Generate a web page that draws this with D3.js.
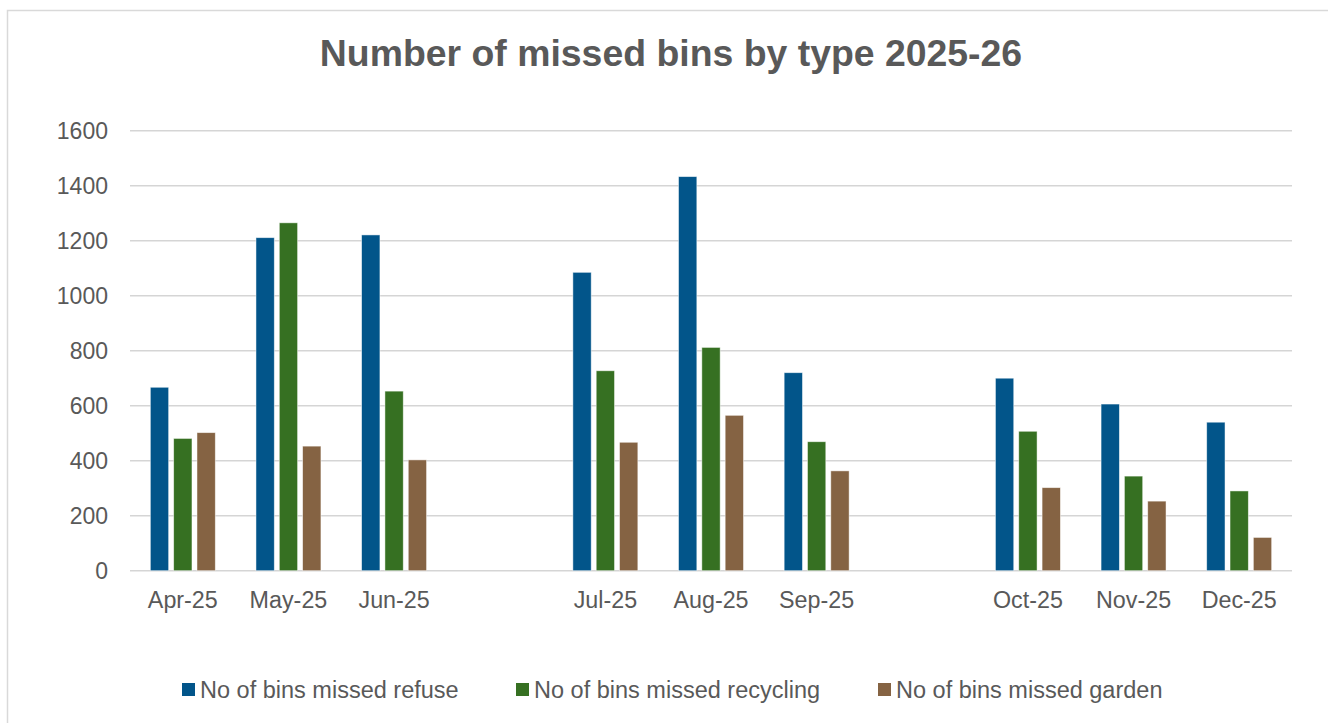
<!DOCTYPE html>
<html>
<head>
<meta charset="utf-8">
<script src="https://cdn.jsdelivr.net/npm/d3@7"></script>
<style>
  html, body { margin: 0; padding: 0; background: #fff; }
  svg { display: block; }
</style>
</head>
<body>
<svg id="chart" width="1328" height="723"></svg>
<script>
// Month slots; empty strings are spacer slots between quarters
const months = ["Apr-25", "May-25", "Jun-25", "", "Jul-25", "Aug-25", "Sep-25", "", "Oct-25", "Nov-25", "Dec-25"];
const refuse    = [667, 1211, 1221, null, 1085, 1433, 720, null, 700, 606, 540];
const recycling = [481, 1265, 653, null, 727, 812, 469, null, 507, 344, 290];
const garden    = [502, 453, 403, null, 467, 565, 363, null, 302, 253, 121];
const seriesNames = ["No of bins missed refuse", "No of bins missed recycling", "No of bins missed garden"];
const seriesColors = ["#02558a", "#367022", "#856343"];
const yTicks = [0, 200, 400, 600, 800, 1000, 1200, 1400, 1600];

const seriesValues = [refuse, recycling, garden];

const svg = d3.select("#chart");
const font = "'Liberation Sans', Arial, sans-serif";
const textColor = "#595959";

// Outer frame (top and left edges visible)
svg.append("path")
  .attr("d", "M7.5,730 V10.5 H1340")
  .attr("fill", "none")
  .attr("stroke", "#d9d9d9")
  .attr("stroke-width", 1.5);

// Title
svg.append("text")
  .attr("x", 671)
  .attr("y", 66)
  .attr("text-anchor", "middle")
  .attr("font-family", font)
  .attr("font-weight", "bold")
  .attr("font-size", 37.4)
  .attr("fill", textColor)
  .text("Number of missed bins by type 2025-26");

const plot = { left: 130, right: 1292, top: 130.7, bottom: 570.7 };

const x0 = d3.scaleBand()
  .domain(d3.range(months.length))
  .range([plot.left, plot.right])
  .padding(0);

const y = d3.scaleLinear()
  .domain([0, 1600])
  .range([plot.bottom, plot.top]);

const groupW = x0.bandwidth() * 0.615;
const x1 = d3.scaleBand()
  .domain(d3.range(seriesValues.length))
  .range([0, groupW])
  .paddingInner(0.2146)
  .paddingOuter(0);

// Gridlines
svg.append("g")
  .selectAll("line")
  .data(yTicks)
  .join("line")
  .attr("x1", plot.left)
  .attr("x2", plot.right)
  .attr("y1", d => y(d))
  .attr("y2", d => y(d))
  .attr("stroke", "#d5d5d5")
  .attr("stroke-width", 1.4);

// Y axis labels
const yAxis = d3.axisLeft(y).tickValues(yTicks).tickFormat(d3.format("d")).tickSize(0).tickPadding(22);
const gy = svg.append("g")
  .attr("transform", `translate(${plot.left},0)`)
  .call(yAxis);
gy.select(".domain").remove();
gy.selectAll("text")
  .attr("font-family", font)
  .attr("font-size", 23)
  .attr("fill", textColor);

// X axis labels
const xAxis = d3.axisBottom(x0).tickFormat(i => months[i]).tickSize(0).tickPadding(21);
const gx = svg.append("g")
  .attr("transform", `translate(0,${plot.bottom})`)
  .call(xAxis);
gx.select(".domain").remove();
gx.selectAll("text")
  .attr("font-family", font)
  .attr("font-size", 23.3)
  .attr("fill", textColor);

// Bars
const groups = svg.append("g")
  .selectAll("g")
  .data(d3.range(months.length))
  .join("g")
  .attr("transform", i => `translate(${x0(i) + (x0.bandwidth() - groupW) / 2},0)`);

groups.selectAll("rect")
  .data(i => seriesValues.map((vals, s) => ({ s, v: vals[i] })).filter(d => d.v != null))
  .join("rect")
  .attr("x", d => x1(d.s))
  .attr("width", x1.bandwidth())
  .attr("y", d => y(d.v))
  .attr("height", d => y(0) - y(d.v))
  .attr("fill", d => seriesColors[d.s])
  .attr("stroke", "#ffffff")
  .attr("stroke-opacity", 0.6)
  .attr("stroke-width", 0.8);

// Legend
const legendX = [182, 516, 878];
const legend = svg.append("g")
  .selectAll("g")
  .data(seriesNames)
  .join("g")
  .attr("transform", (d, i) => `translate(${legendX[i]},683)`);

legend.append("rect")
  .attr("width", 13)
  .attr("height", 13)
  .attr("fill", (d, i) => seriesColors[i]);

legend.append("text")
  .attr("x", 18)
  .attr("y", 14.5)
  .attr("font-family", font)
  .attr("font-size", 23.5)
  .attr("fill", textColor)
  .text(d => d);
</script>
</body>
</html>
